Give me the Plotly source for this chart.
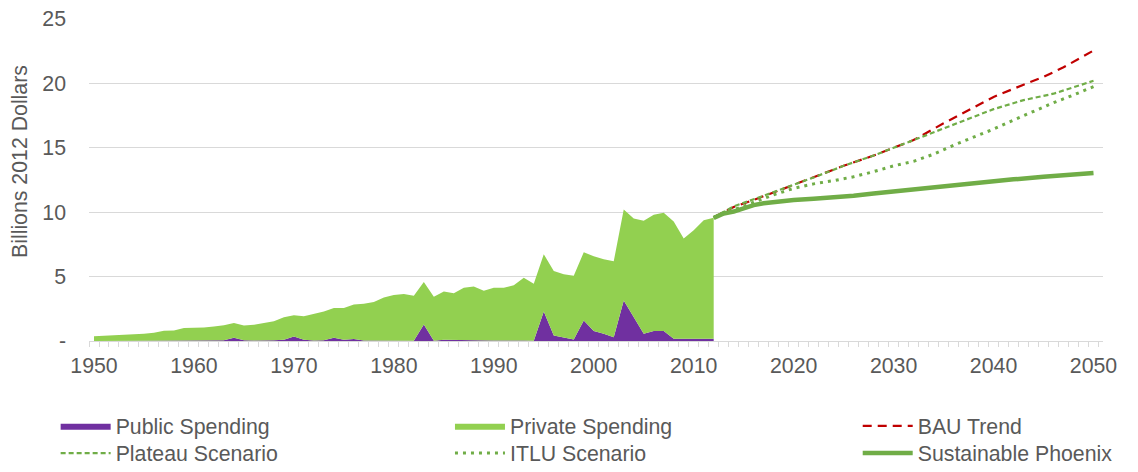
import plotly.graph_objects as go

# ---------------- data ----------------
hist_years = list(range(1950, 2013))

# top of the stacked area (public + private), billions 2012 $
total_spending = [
    0.37, 0.38, 0.44, 0.48, 0.50, 0.56, 0.64, 0.79, 0.82, 1.00,   # 1950-1959
    1.03, 1.05, 1.13, 1.23, 1.39, 1.20, 1.26, 1.41, 1.54, 1.85,   # 1960-1969
    2.00, 1.93, 2.11, 2.29, 2.57, 2.57, 2.84, 2.89, 3.02, 3.38,   # 1970-1979
    3.57, 3.65, 3.52, 4.58, 3.44, 3.85, 3.70, 4.14, 4.24, 3.91,   # 1980-1989
    4.14, 4.14, 4.32, 4.92, 4.45, 6.73, 5.43, 5.18, 5.07, 6.89,   # 1990-1999
    6.58, 6.34, 6.19, 10.21, 9.51, 9.33, 9.80, 9.95, 9.28, 7.95,  # 2000-2009
    8.60, 9.38, 9.56,                                             # 2010-2012
]

public_spending = [
    0.00, 0.00, 0.00, 0.00, 0.00, 0.00, 0.05, 0.05, 0.03, 0.03,   # 1950-1959
    0.03, 0.03, 0.03, 0.05, 0.25, 0.05, 0.03, 0.03, 0.05, 0.10,   # 1960-1969
    0.35, 0.10, 0.03, 0.05, 0.25, 0.10, 0.15, 0.03, 0.03, 0.05,   # 1970-1979
    0.05, 0.02, 0.02, 1.28, 0.02, 0.10, 0.08, 0.05, 0.03, 0.03,   # 1980-1989
    0.03, 0.03, 0.05, 0.03, 0.02, 2.30, 0.43, 0.30, 0.12, 1.60,   # 1990-1999
    0.77, 0.56, 0.30, 3.15, 1.85, 0.56, 0.77, 0.77, 0.17, 0.17,   # 2000-2009
    0.17, 0.17, 0.17,                                             # 2010-2012
]

bau_years = [2012, 2014, 2016, 2018, 2020, 2022, 2025, 2028, 2030, 2032,
             2035, 2037, 2040, 2043, 2045, 2047, 2050]
bau_trend = [9.6, 10.4, 10.95, 11.55, 12.1, 12.7, 13.6, 14.4, 15.0, 15.6,
             16.9, 17.7, 18.95, 19.9, 20.5, 21.25, 22.55]

plateau_years = [2012, 2014, 2016, 2018, 2020, 2022, 2025, 2028, 2030, 2031,
                 2033, 2035, 2037, 2040, 2043, 2046, 2048, 2050]
plateau_scenario = [9.6, 10.45, 11.0, 11.55, 12.1, 12.7, 13.6, 14.4, 15.0, 15.3,
                    15.9, 16.5, 17.1, 18.0, 18.7, 19.2, 19.7, 20.2]

itlu_years = [2012, 2014, 2016, 2018, 2020, 2022, 2024, 2026, 2028, 2030,
              2032, 2034, 2036, 2038, 2040, 2042, 2044, 2046, 2048, 2050]
itlu_scenario = [9.6, 10.2, 10.8, 11.35, 11.85, 12.2, 12.45, 12.75, 13.15, 13.6,
                 13.95, 14.5, 15.2, 15.8, 16.45, 17.15, 17.85, 18.5, 19.1, 19.75]

sust_years = [2012, 2013, 2014, 2015, 2016, 2017, 2018, 2019, 2020, 2022, 2024,
              2026, 2028, 2030, 2032, 2035, 2037, 2040, 2042, 2045, 2048, 2050]
sustainable_phoenix = [9.55, 9.9, 10.05, 10.3, 10.55, 10.7, 10.8, 10.88, 10.95, 11.05, 11.15,
                       11.28, 11.46, 11.62, 11.79, 12.02, 12.2, 12.42, 12.55, 12.75, 12.95, 13.05]

x_tick_vals = list(range(1950, 2051, 10))
y_tick_vals = [0, 5, 10, 15, 20, 25]
y_tick_text = ["-", "5", "10", "15", "20", "25"]

# ---------------- style ----------------
FONT = "Arial, Liberation Sans, sans-serif"
FS = 21.3
GRAY = "#595959"
GRID = "#D9D9D9"
PURPLE = "#7030A0"
LGREEN = "#92D050"
GREEN = "#70AD47"
RED = "#C00000"

fig = go.Figure()

fig.add_trace(go.Scatter(
    x=hist_years, y=public_spending, name="Public Spending",
    mode="lines", line=dict(width=0, color=PURPLE),
    fill="tozeroy", fillcolor=PURPLE, legend="legend"))
fig.add_trace(go.Scatter(
    x=hist_years, y=total_spending, name="Private Spending",
    mode="lines", line=dict(width=0, color=LGREEN),
    fill="tonexty", fillcolor=LGREEN, legend="legend2"))

fig.add_trace(go.Scatter(
    x=bau_years, y=bau_trend, name="BAU Trend", mode="lines",
    line=dict(color=RED, width=2.2, dash="9px,6px"), legend="legend3"))
fig.add_trace(go.Scatter(
    x=plateau_years, y=plateau_scenario, name="Plateau Scenario", mode="lines",
    line=dict(color=GREEN, width=2.2, dash="5px,3px"), legend="legend4"))
fig.add_trace(go.Scatter(
    x=itlu_years, y=itlu_scenario, name="ITLU Scenario", mode="lines",
    line=dict(color=GREEN, width=3, dash="3px,5px"), legend="legend5"))
fig.add_trace(go.Scatter(
    x=sust_years, y=sustainable_phoenix, name="Sustainable Phoenix", mode="lines",
    line=dict(color=GREEN, width=4.5), legend="legend6"))

legend_common = dict(
    orientation="v", yanchor="top", xanchor="left",
    xref="container", yref="container",
    font=dict(family=FONT, size=FS, color=GRAY),
    bgcolor="rgba(0,0,0,0)", itemwidth=50, tracegroupgap=0,
    traceorder="normal",
    itemclick=False, itemdoubleclick=False,
)
ROW1_Y = 0.1409
ROW2_Y = 0.0831
COL_X = [0.0489, 0.3954, 0.7537]

fig.update_layout(
    width=1138, height=472,
    margin=dict(l=89, r=35, t=19, b=131, autoexpand=False),
    paper_bgcolor="white", plot_bgcolor="white",
    font=dict(family=FONT, size=FS, color=GRAY),
    showlegend=True,
    legend=dict(x=COL_X[0], y=ROW1_Y, **legend_common),
    legend2=dict(x=COL_X[1], y=ROW1_Y, **legend_common),
    legend3=dict(x=COL_X[2], y=ROW1_Y, **legend_common),
    legend4=dict(x=COL_X[0], y=ROW2_Y, **legend_common),
    legend5=dict(x=COL_X[1], y=ROW2_Y, **legend_common),
    legend6=dict(x=COL_X[2], y=ROW2_Y, **legend_common),
    xaxis=dict(
        range=[1949.5, 2050.95],
        tickmode="array", tickvals=x_tick_vals, tickangle=0,
        ticks="outside", ticklen=5, tickcolor="rgba(0,0,0,0)",
        tickfont=dict(family=FONT, size=FS, color=GRAY),
        showgrid=False, zeroline=False,
        showline=True, linecolor=GRID, linewidth=1,
        minor=dict(tickmode="linear", tick0=1949.5, dtick=1,
                   ticks="outside", ticklen=5, tickcolor=GRID, showgrid=False),
    ),
    yaxis=dict(
        range=[0, 25],
        tickmode="array", tickvals=y_tick_vals, ticktext=y_tick_text,
        ticks="", ticklabelstandoff=22,
        tickfont=dict(family=FONT, size=FS, color=GRAY),
        showgrid=True, gridcolor=GRID, gridwidth=1,
        zeroline=False, showline=False,
    ),
    annotations=[dict(
        text="Billions 2012 Dollars", textangle=-90,
        xref="paper", yref="paper", x=-0.068, y=0.556,
        xanchor="center", yanchor="middle", showarrow=False,
        font=dict(family=FONT, size=FS, color=GRAY),
    )],
)

fig.write_html("out.html")
